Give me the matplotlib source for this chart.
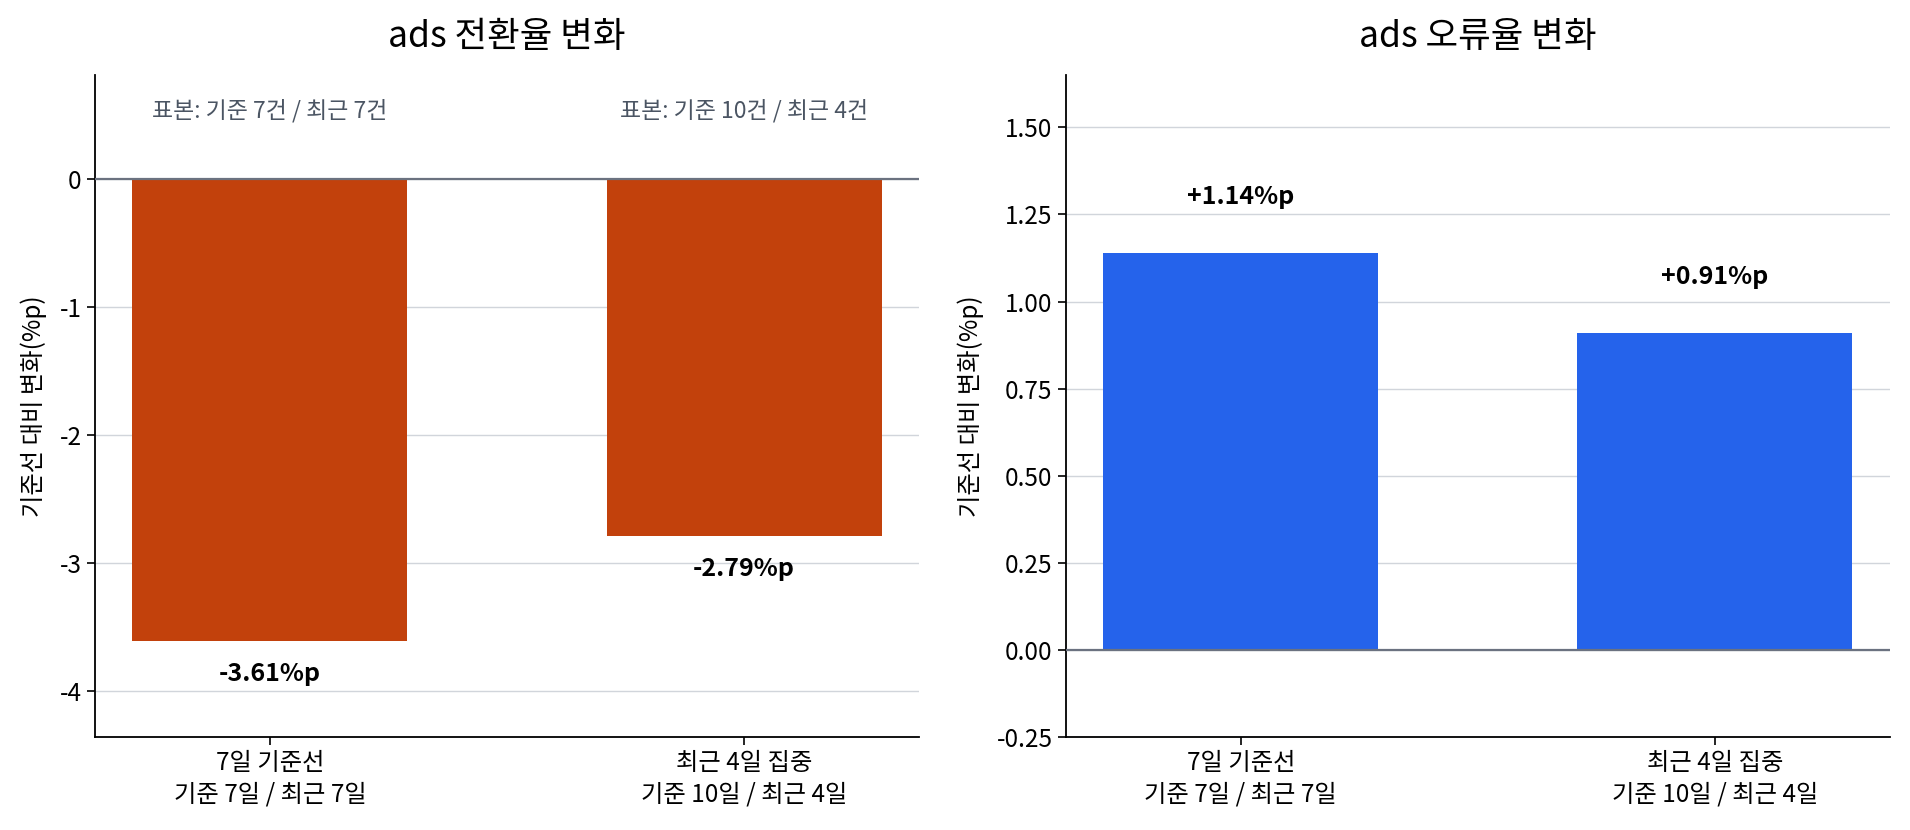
import matplotlib
matplotlib.use("Agg")
import matplotlib.pyplot as plt
import matplotlib.transforms as mtransforms

plt.rcParams['font.family'] = ['Noto Sans CJK KR', 'DejaVu Sans']
plt.rcParams['axes.unicode_minus'] = False

# data
categories = ['7일 기준선\n기준 7일 / 최근 7일', '최근 4일 집중\n기준 10일 / 최근 4일']
conv_change = [-3.61, -2.79]
err_change = [1.14, 0.91]
sample_notes = ['표본: 기준 7건 / 최근 7건', '표본: 기준 10건 / 최근 4건']

conv_color = '#C2410C'
err_color = '#2563EB'

fig, axes = plt.subplots(1, 2, figsize=(19.1, 8.3), dpi=100)
fig.subplots_adjust(left=0.0497, right=0.9895, top=0.9096, bottom=0.112, wspace=0.178)

x = list(range(len(categories)))


def style_ax(ax, title):
    ax.set_title(title, fontsize=25.5, pad=20)
    ax.spines['top'].set_visible(False)
    ax.spines['right'].set_visible(False)
    ax.spines['left'].set_linewidth(1.3)
    ax.spines['bottom'].set_linewidth(1.3)
    ax.grid(axis='y', color='#D1D5DB', linewidth=1)
    ax.set_axisbelow(True)
    ax.axhline(0, color='#6B7280', linewidth=1.6, zorder=3)
    ax.set_xticks(x)
    ax.set_xticklabels(categories, fontsize=17.5, linespacing=1.25)
    ax.tick_params(axis='y', labelsize=17.5)
    ax.tick_params(length=6, width=1.2)
    ax.set_ylabel('기준선 대비 변화(%p)', fontsize=17.5, labelpad=9)


# left: conversion rate
ax = axes[0]
ax.bar(x, conv_change, width=0.58, color=conv_color, zorder=2)
style_ax(ax, 'ads 전환율 변화')
ax.set_ylim(-4.36, 0.81)
ax.set_yticks([0, -1, -2, -3, -4])
for xi, v in zip(x, conv_change):
    ax.text(xi, v - 0.26, f'{v:+.2f}%p', ha='center', va='center',
            fontsize=18, fontweight='bold')
trans = mtransforms.blended_transform_factory(ax.transData, ax.transAxes)
for xi, note in zip(x, sample_notes):
    ax.text(xi, 0.946, note, transform=trans, ha='center', va='center',
            fontsize=16.5, color='#4B5563')

# right: error rate
ax = axes[1]
ax.bar(x, err_change, width=0.58, color=err_color, zorder=2)
style_ax(ax, 'ads 오류율 변화')
ax.set_ylim(-0.25, 1.65)
ax.set_yticks([-0.25, 0, 0.25, 0.5, 0.75, 1.0, 1.25, 1.5])
ax.set_yticklabels([f'{t:.2f}' for t in ax.get_yticks()])
for xi, v in zip(x, err_change):
    ax.text(xi, v + 0.16, f'{v:+.2f}%p', ha='center', va='center',
            fontsize=18, fontweight='bold')

fig.savefig('out.png', dpi=100)
